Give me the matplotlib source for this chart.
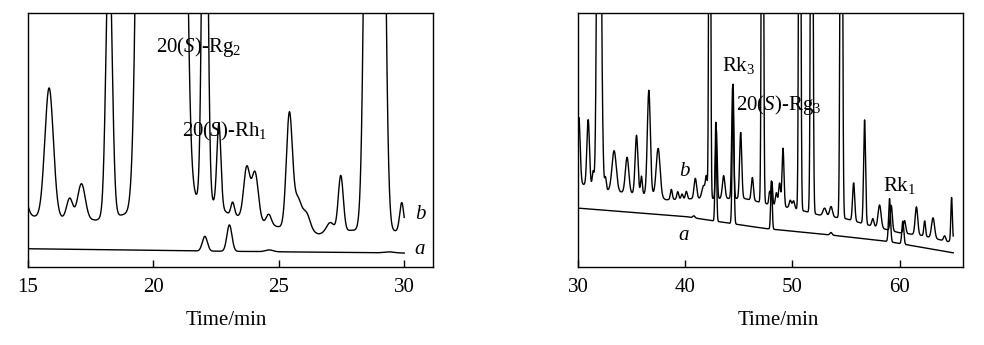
import numpy as np
import matplotlib.pyplot as plt

plt.rcParams['font.family'] = ['Liberation Serif', 'DejaVu Serif']
plt.rcParams['mathtext.fontset'] = 'custom'
plt.rcParams['mathtext.rm'] = 'Liberation Serif'
plt.rcParams['mathtext.it'] = 'Liberation Serif:italic'

# ---- left panel (15-30 min) ----
# trace b: floor under the peaks, then peak table (time, height, width)
b1_floor_t = [15, 17.7, 19.0, 21.6, 22.4, 23.0, 24.9, 26.6, 27.9, 29.5, 30]
b1_floor_y = [20, 18.5, 21, 27, 25, 21, 16, 13, 14.5, 14, 14.5]
b1_time = [14.8, 15.84, 16.66, 17.13, 18.23, 19.62, 20.3, 21.03, 22.05, 22.61, 23.16,
           23.72, 24.05, 24.6, 25.42, 25.75, 26.1, 27.05, 27.47, 28.6, 29.05, 29.9]
b1_height = [10, 51, 8, 14, 110, 400, 400, 400, 214, 33, 5, 20, 19, 4, 45, 12, 7, 4,
             22, 300, 300, 11]
b1_width = [0.15, 0.17, 0.12, 0.15, 0.12, 0.2, 0.25, 0.2, 0.1, 0.08, 0.07, 0.12, 0.13,
            0.1, 0.12, 0.15, 0.15, 0.15, 0.1, 0.15, 0.15, 0.08]

# trace a
a1_floor_t = [15, 22, 30]
a1_floor_y = [7.2, 6.3, 5.5]
a1_time = [22.05, 23.03, 24.62, 29.4]
a1_height = [5.8, 10.4, 0.7, 0.4]
a1_width = [0.1, 0.1, 0.15, 0.2]

# ---- right panel (30-65 min) ----
b2_floor_t = [30, 33, 35, 37, 38.2, 41.3, 45.5, 47.5, 50.2, 52.5, 55, 57.1, 60, 62, 64.5, 65]
b2_floor_y = [33, 30, 29, 28.5, 26.5, 27, 27, 25, 23, 20.5, 19, 16.5, 13.5, 12.5, 10, 10.5]
b2_time = [30.07, 30.94, 31.4, 31.95, 32.3, 32.55, 33.36, 34.57, 35.45, 35.91, 36.6,
           37.47, 38.7, 39.3, 39.7, 40.1, 40.94, 41.7, 41.97, 42.28, 42.9, 43.58, 44.42,
           45.17, 46.26, 47.2, 47.87, 48.08, 48.5, 48.8, 49.12, 49.8, 50.1, 50.68, 51.8,
           53.0, 53.6, 54.56, 55.71, 56.73, 57.5, 58.13, 59.22, 60.46, 61.57, 62.34,
           63.12, 64.2, 64.85]
b2_height = [26, 26, 6, 300, 8, 5, 16, 14, 23, 7, 41, 19, 4, 3, 2, 3, 8, 5, 8, 300, 27,
             9, 44, 26, 9, 300, 5, 9, 5, 9, 23, 3, 3, 300, 300, 3, 4, 300, 15, 41, 3,
             9, 10, 5, 11, 6, 8, 2, 17]
b2_width = [0.12, 0.12, 0.08, 0.15, 0.08, 0.08, 0.2, 0.16, 0.13, 0.08, 0.14, 0.18, 0.09,
            0.09, 0.09, 0.09, 0.12, 0.15, 0.09, 0.07, 0.08, 0.12, 0.09, 0.1, 0.1, 0.08,
            0.07, 0.07, 0.09, 0.09, 0.09, 0.1, 0.1, 0.08, 0.09, 0.15, 0.13, 0.09, 0.1,
            0.09, 0.1, 0.14, 0.1, 0.11, 0.12, 0.08, 0.14, 0.1, 0.07]

a2_floor_t = [30, 40, 42.6, 47.4, 53.6, 59, 65]
a2_floor_y = [23.2, 19.9, 18.2, 15.2, 12.6, 10, 5.6]
a2_time = [40.8, 42.85, 44.46, 48.04, 53.6, 59.06, 60.3]
a2_height = [0.8, 39, 55, 19, 1, 17, 9]
a2_width = [0.1, 0.07, 0.08, 0.07, 0.1, 0.09, 0.09]


def trace(t0, t1, floor_t, floor_y, times, heights, widths):
    t = np.linspace(t0, t1, 4000)
    y = np.interp(t, floor_t, floor_y)
    for c, h, w in zip(times, heights, widths):
        y = y + h * np.exp(-0.5 * ((t - c) / w) ** 2)
    return t, y


fig = plt.figure(figsize=(9.84, 3.45), dpi=100)
ax1 = fig.add_axes([0.0285, 0.226, 0.4116, 0.736])
ax2 = fig.add_axes([0.5875, 0.226, 0.391, 0.736])

lw = 1.0
t, y = trace(15, 30, b1_floor_t, b1_floor_y, b1_time, b1_height, b1_width)
ax1.plot(t, y, color='black', lw=lw)
t, y = trace(15, 30, a1_floor_t, a1_floor_y, a1_time, a1_height, a1_width)
ax1.plot(t, y, color='black', lw=lw)

t, y = trace(30, 65, b2_floor_t, b2_floor_y, b2_time, b2_height, b2_width)
ax2.plot(t, y, color='black', lw=lw)
t, y = trace(30, 65, a2_floor_t, a2_floor_y, a2_time, a2_height, a2_width)
ax2.plot(t, y, color='black', lw=lw)

ax1.set_xlim(15, 31.15)
ax2.set_xlim(30, 65.9)
ax1.set_xticks([15, 20, 25, 30])
ax2.set_xticks([30, 40, 50, 60])

for ax in (ax1, ax2):
    ax.set_ylim(0, 100)
    ax.set_yticks([])
    ax.tick_params(axis='x', direction='in', length=5, width=1, pad=8, labelsize=15)
    for s in ax.spines.values():
        s.set_linewidth(1.0)
    ax.set_xlabel('Time/min', fontsize=15, labelpad=10)
ax2.xaxis.set_label_coords(0.52, -0.175)
ax1.xaxis.set_label_coords(0.49, -0.175)

# peak labels
fs = 15
ax1.text(20.12, 86.7, r'20($\mathit{S}$)-Rg$_{\mathrm{2}}$', fontsize=fs, va='center')
ax1.text(21.12, 53.3, r'20($\mathit{S}$)-Rh$_{\mathrm{1}}$', fontsize=fs, va='center')
ax1.text(30.42, 20.5, 'b', fontsize=fs, style='italic', va='center')
ax1.text(30.42, 7.0, 'a', fontsize=fs, style='italic', va='center')

ax2.text(43.4, 79.5, r'Rk$_{\mathrm{3}}$', fontsize=fs, va='center')
ax2.text(44.7, 63.8, r'20($\mathit{S}$)-Rg$_{\mathrm{3}}$', fontsize=fs, va='center')
ax2.text(58.45, 32.3, r'Rk$_{\mathrm{1}}$', fontsize=fs, va='center')
ax2.text(39.4, 37.5, 'b', fontsize=fs, style='italic', va='center')
ax2.text(39.33, 12.6, 'a', fontsize=fs, style='italic', va='center')

fig.savefig('out.png', dpi=100)
